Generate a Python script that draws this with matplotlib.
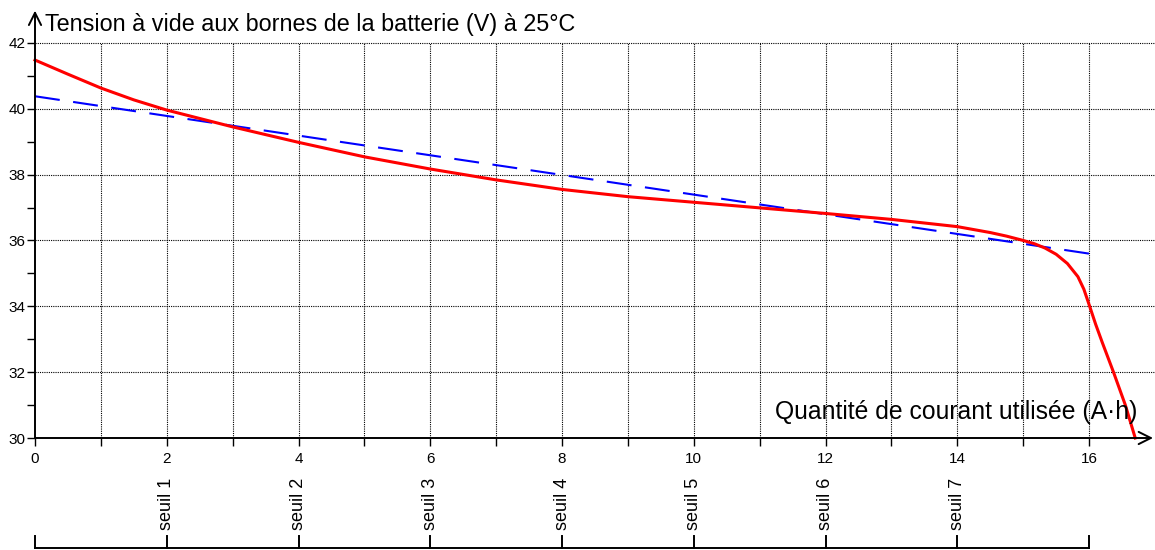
import numpy as np
import matplotlib
matplotlib.use("Agg")
import matplotlib.pyplot as plt

plt.rcParams["font.family"] = ["Liberation Sans", "DejaVu Sans"]

# measured open-circuit voltage (red curve)
q_red = [0, 0.5, 1, 1.5, 2, 3, 4, 5, 6, 7, 8, 9, 10, 11, 12, 13, 14,
         14.5, 14.75, 15, 15.17, 15.33, 15.5, 15.67, 15.83, 15.92, 16,
         16.1, 16.2, 16.37, 16.55, 16.7]
v_red = [41.48, 41.05, 40.63, 40.27, 39.96, 39.45, 38.98, 38.54, 38.17,
         37.84, 37.55, 37.33, 37.16, 36.99, 36.82, 36.64, 36.42,
         36.24, 36.13, 36.0, 35.9, 35.77, 35.58, 35.3, 34.9, 34.52, 34.05,
         33.45, 32.9, 32.0, 31.0, 30.0]

# linear approximation (blue dashed)
q_lin = [0, 16]
v_lin = [40.38, 35.6]

seuil_pos = [2, 4, 6, 8, 10, 12, 14]
seuil_lab = [f"seuil {i}" for i in range(1, 8)]
bracket_ticks = [0, 2, 4, 6, 8, 10, 12, 14, 16]

fig = plt.figure(figsize=(11.55, 5.5), dpi=100)
ax = fig.add_axes([35 / 1155, 112 / 550, 1120 / 1155, 428 / 550])
ax.set_xlim(0, 17)
ax.set_ylim(30, 43)

for s in ["top", "right", "left", "bottom"]:
    ax.spines[s].set_visible(False)

# grid
grid_kw = dict(color="black", lw=0.8, ls=(0, (1, 1)), zorder=1)
ax.vlines(np.arange(1, 17), 30, 42, **grid_kw)
ax.hlines(np.arange(32, 43, 2), 0, 17, **grid_kw)

# axes with arrows
arrow_kw = dict(arrowstyle="->", lw=1.4, color="black",
                mutation_scale=22, shrinkA=0, shrinkB=0)
ax.annotate("", xy=(16.97, 30), xytext=(0, 30), arrowprops=arrow_kw,
            annotation_clip=False, zorder=4)
ax.annotate("", xy=(0, 42.98), xytext=(0, 30), arrowprops=arrow_kw,
            annotation_clip=False, zorder=4)

ax.plot(q_lin, v_lin, color="#0000ff", lw=1.5, dashes=(12, 6.5), zorder=2)
ax.plot(q_red, v_red, color="#ff0000", lw=2.2, zorder=3, clip_on=False,
        solid_joinstyle="round")

# ticks
ax.set_xticks(np.arange(0, 17, 2))
ax.set_xticks(np.arange(1, 17, 2), minor=True)
ax.set_yticks(np.arange(30, 43, 2))
ax.set_yticks(np.arange(31, 42, 2), minor=True)
ax.tick_params(axis="both", which="both", direction="out", length=6,
               width=1.0, labelsize=11, color="black")
ax.tick_params(axis="x", pad=4)
ax.tick_params(axis="y", pad=1)

ax.text(0.15, 42.55, "Tension à vide aux bornes de la batterie (V) à 25°C",
        fontsize=16.8, ha="left", va="center")
ax.text(16.73, 30.8, "Quantité de courant utilisée (A·h)",
        fontsize=17.8, ha="right", va="center")

# seuil labels and bracket
for xp, lab in zip(seuil_pos, seuil_lab):
    ax.text(xp, 27.22, lab, rotation=90, fontsize=13, ha="center",
            va="bottom", clip_on=False)
ax.plot([0, 16], [26.66, 26.66], color="black", lw=1.4, clip_on=False)
for xp in bracket_ticks:
    ax.plot([xp, xp], [26.66, 27.02], color="black", lw=1.4,
            clip_on=False)

fig.savefig("out.png", dpi=100)
